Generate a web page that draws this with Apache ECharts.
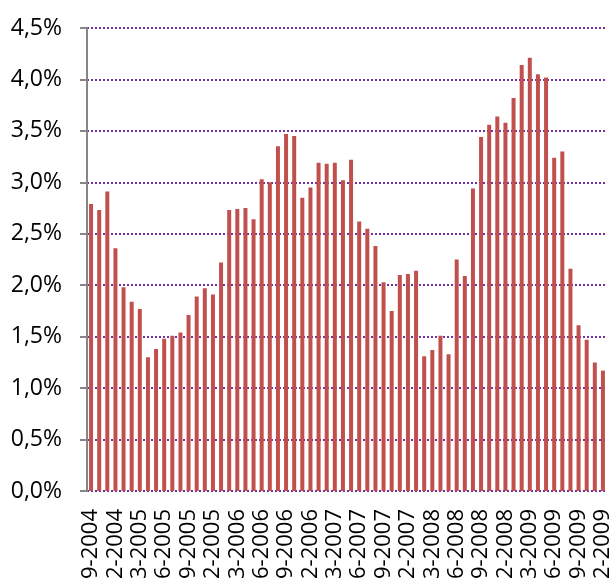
<!DOCTYPE html>
<html>
<head>
<meta charset="utf-8">
<script src="https://cdn.jsdelivr.net/npm/echarts@6/dist/echarts.min.js"></script>
<style>
  html, body { margin: 0; padding: 0; background: #fff; }
  #main { width: 610px; height: 583px; }
</style>
</head>
<body>
<div id="main"></div>
<script>
// months Sep 2004 .. Dec 2009, one bar per month
var months = [
  '9-2004', '10-2004', '11-2004', '12-2004',
  '1-2005', '2-2005', '3-2005', '4-2005', '5-2005', '6-2005', '7-2005', '8-2005', '9-2005', '10-2005', '11-2005', '12-2005',
  '1-2006', '2-2006', '3-2006', '4-2006', '5-2006', '6-2006', '7-2006', '8-2006', '9-2006', '10-2006', '11-2006', '12-2006',
  '1-2007', '2-2007', '3-2007', '4-2007', '5-2007', '6-2007', '7-2007', '8-2007', '9-2007', '10-2007', '11-2007', '12-2007',
  '1-2008', '2-2008', '3-2008', '4-2008', '5-2008', '6-2008', '7-2008', '8-2008', '9-2008', '10-2008', '11-2008', '12-2008',
  '1-2009', '2-2009', '3-2009', '4-2009', '5-2009', '6-2009', '7-2009', '8-2009', '9-2009', '10-2009', '11-2009', '12-2009'
];

// values in percent
var values = [
  2.79, 2.73, 2.91, 2.36,
  1.98, 1.84, 1.77, 1.30, 1.38, 1.48, 1.51, 1.54, 1.71, 1.89, 1.97, 1.91,
  2.22, 2.73, 2.74, 2.75, 2.64, 3.03, 3.00, 3.35, 3.47, 3.45, 2.85, 2.95,
  3.19, 3.18, 3.19, 3.02, 3.22, 2.62, 2.55, 2.38, 2.03, 1.75, 2.10, 2.11,
  2.14, 1.31, 1.37, 1.51, 1.33, 2.25, 2.09, 2.94, 3.44, 3.56, 3.64, 3.58,
  3.82, 4.14, 4.21, 4.05, 4.02, 3.24, 3.30, 2.16, 1.61, 1.47, 1.25, 1.17
];

var yMin = 0, yMax = 4.5, yStep = 0.5;

var myChart = echarts.init(document.getElementById('main'));

var option = {
  backgroundColor: '#fff',
  animation: false,
  textStyle: { fontFamily: 'Open Sans' },
  grid: { left: 87, right: 3, top: 28, bottom: 92, outerBoundsMode: 'none', containLabel: false },
  xAxis: {
    type: 'category',
    data: months,
    axisLine: { show: false },
    axisTick: { show: false },
    axisLabel: {
      interval: 2,
      rotate: 90,
      margin: 18,
      fontSize: 22,
      padding: [5, 0, 0, 0],
      color: '#000'
    },
    splitLine: { show: false }
  },
  yAxis: {
    type: 'value',
    min: yMin,
    max: yMax,
    interval: yStep,
    axisLine: { show: true, lineStyle: { color: '#868686', width: 2 } },
    axisTick: { show: true, length: 7, lineStyle: { color: '#868686', width: 2 } },
    axisLabel: {
      margin: 25,
      fontSize: 23,
      color: '#000',
      formatter: function (v) { return v.toFixed(1).replace('.', ',') + '%'; }
    },
    splitLine: {
      show: true,
      lineStyle: { color: '#7030A0', width: 2, type: [2, 2] }
    }
  },
  series: [{
    type: 'bar',
    data: values,
    barWidth: 4,
    itemStyle: { color: '#C0504D' }
  }]
};

myChart.setOption(option);
</script>
</body>
</html>
